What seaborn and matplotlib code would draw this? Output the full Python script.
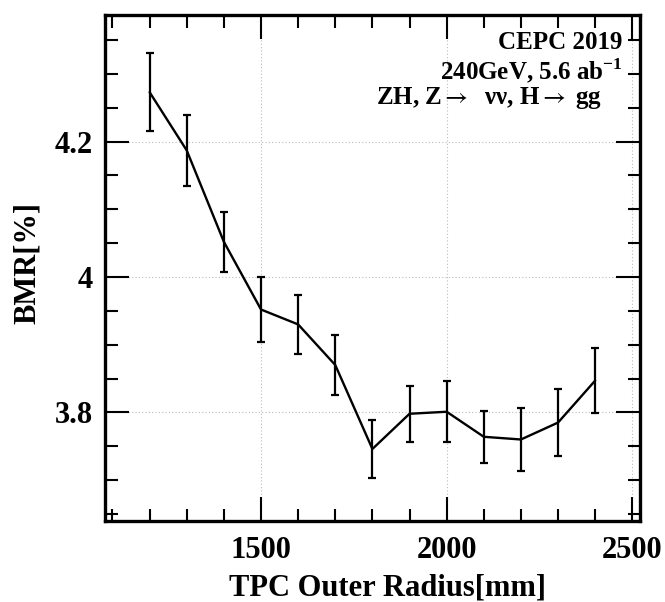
import numpy as np
import pandas as pd
import matplotlib
matplotlib.use("Agg")
import matplotlib.pyplot as plt
from matplotlib.ticker import MultipleLocator
import seaborn as sns

radius = [1200, 1300, 1400, 1500, 1600, 1700, 1800, 1900, 2000, 2100, 2200, 2300, 2400]
bmr = [4.273, 4.187, 4.052, 3.952, 3.930, 3.870, 3.746, 3.798, 3.801, 3.764, 3.760, 3.785, 3.847]
bmr_err = [0.058, 0.052, 0.044, 0.048, 0.044, 0.045, 0.043, 0.041, 0.045, 0.038, 0.046, 0.049, 0.048]
annot_lines = ["CEPC 2019", "240GeV, 5.6 ab$^{\\mathbf{-1}}$", "ZH, Z$\\rightarrow$  \u03bd\u03bd, H$\\rightarrow$ gg"]

sns.set_style("ticks")
plt.rcParams['font.family'] = ['Liberation Serif', 'DejaVu Serif']
plt.rcParams['mathtext.fontset'] = 'custom'
plt.rcParams['mathtext.rm'] = 'Liberation Serif:bold'
plt.rcParams['mathtext.bf'] = 'Liberation Serif:bold'
plt.rcParams['text.color'] = 'black'
plt.rcParams['axes.labelcolor'] = 'black'
plt.rcParams['xtick.color'] = 'black'
plt.rcParams['ytick.color'] = 'black'

df = pd.DataFrame({"radius": radius, "bmr": bmr, "err": bmr_err})

fig = plt.figure(figsize=(6.65, 6.02), dpi=100)
ax = fig.add_axes([0.158, 0.135, 0.804, 0.840])

ax.errorbar(df["radius"], df["bmr"], yerr=df["err"], fmt="none", ecolor="black",
            elinewidth=1.6, capsize=3, capthick=1.6, zorder=3)
sns.lineplot(data=df, x="radius", y="bmr", ax=ax, color="black", linewidth=1.7,
             errorbar=None, zorder=4)

ax.set_xlim(1080, 2520)
ax.set_ylim(3.64, 4.387)
ax.xaxis.set_minor_locator(MultipleLocator(100))
ax.yaxis.set_minor_locator(MultipleLocator(0.05))
ax.set_xticks([1500, 2000, 2500])
ax.set_xticklabels(["1500", "2000", "2500"])
ax.set_yticks([3.8, 4.0, 4.2])
ax.set_yticklabels(["3.8", "4", "4.2"])

ax.grid(True, which="major", linestyle=(0, (1, 2)), color="#bbbbbb", linewidth=0.8)
ax.tick_params(which="both", direction="in", top=True, right=True, color="black")
ax.tick_params(which="major", length=17, width=1.5, labelsize=22)
ax.tick_params(axis="x", which="major", pad=11)
ax.tick_params(axis="y", which="major", pad=9)
ax.tick_params(which="minor", length=9, width=1.5)
for lab in ax.get_xticklabels() + ax.get_yticklabels():
    lab.set_fontweight("bold")
for s in ax.spines.values():
    s.set_linewidth(2.4)
    s.set_color("black")

ax.set_xlabel("TPC Outer Radius[mm]", fontsize=22, fontweight="bold", labelpad=5)
ax.set_ylabel("BMR[%]", fontsize=22, fontweight="bold", labelpad=10)
ax.xaxis.set_label_coords(0.529, -0.105)
ax.yaxis.set_label_coords(-0.119, 0.51)

xs = [0.968, 0.968, 0.929]
ys = [0.945, 0.888, 0.836]
for t, xx, yy in zip(annot_lines, xs, ys):
    ax.text(xx, yy, t, transform=ax.transAxes, ha="right", va="center",
            fontsize=18, fontweight="bold",
            math_fontfamily=("stix" if "rightarrow" in t else None))

fig.savefig("out.png", dpi=100)
